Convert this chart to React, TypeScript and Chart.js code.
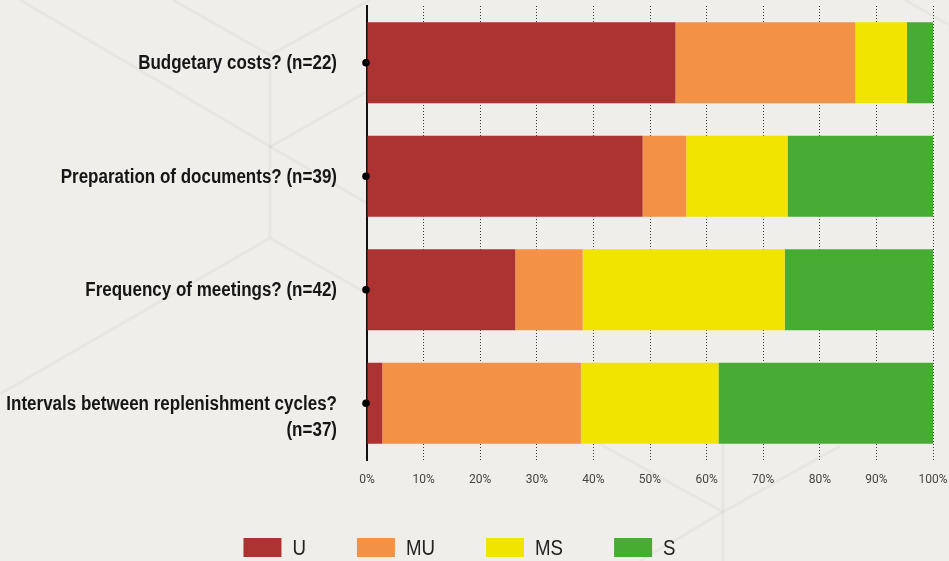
import React, { useEffect, useRef } from 'react';
import { Chart, registerables } from 'chart.js';

Chart.register(...registerables);

// ---- data ----
const categories: string[][] = [
  ['Budgetary costs? (n=22)'],
  ['Preparation of documents? (n=39)'],
  ['Frequency of meetings? (n=42)'],
  ['Intervals between replenishment cycles?', '(n=37)'],
];
const seriesNames = ['U', 'MU', 'MS', 'S'];
const uValues = [54.5, 48.7, 26.2, 2.7];
const muValues = [31.8, 7.7, 11.9, 35.1];
const msValues = [9.1, 17.9, 35.7, 24.3];
const sValues = [4.6, 25.7, 26.2, 37.9];
const xTickValues = [0, 10, 20, 30, 40, 50, 60, 70, 80, 90, 100];

// ---- styles ----
const seriesColors = ['#ad3333', '#f39247', '#f1e400', '#47ab34'];
const BG = '#efeeea';
const SANS = '"Liberation Sans", Arial, sans-serif';
const NARROW_X = 0.85; // horizontal squeeze to imitate a condensed face

// faint decorative hexagon lines of the page background
const backgroundPattern: number[][] = [
  [20, 0, 370, 205],
  [173, 0, 270, 55],
  [270, 55, 370, 0],
  [270, 55, 270, 238],
  [270, 147, 370, 90],
  [270, 238, 0, 394],
  [270, 238, 370, 295],
  [723, 444, 723, 561],
  [600, 444, 723, 512],
  [723, 512, 840, 446],
  [723, 512, 640, 561],
  [905, 0, 949, 25],
];

function narrowText(ctx: CanvasRenderingContext2D, text: string, x: number, y: number, align: CanvasTextAlign) {
  ctx.save();
  ctx.translate(x, y);
  ctx.scale(NARROW_X, 1);
  ctx.textAlign = align;
  ctx.fillText(text, 0, 0);
  ctx.restore();
}

const decorPlugin = {
  id: 'decor',
  beforeDraw(chart: any) {
    const ctx = chart.ctx;
    ctx.save();
    ctx.strokeStyle = 'rgba(0,0,0,0.03)';
    ctx.lineWidth = 3;
    for (const s of backgroundPattern) {
      ctx.beginPath();
      ctx.moveTo(s[0], s[1]);
      ctx.lineTo(s[2], s[3]);
      ctx.stroke();
    }
    ctx.restore();
  },
  afterDraw(chart: any) {
    const { ctx, chartArea } = chart;
    const yScale = chart.scales.y;
    ctx.save();
    // category labels + bullet dots
    (chart.data.labels as string[][]).forEach((lab, i) => {
      const py = yScale.getPixelForValue(i);
      ctx.font = `bold 20px ${SANS}`;
      ctx.fillStyle = '#161616';
      ctx.textBaseline = 'middle';
      lab.forEach((t, j) => narrowText(ctx, t, chartArea.left - 30, py + 1 + j * 26, 'right'));
      ctx.beginPath();
      ctx.fillStyle = '#000';
      ctx.arc(chartArea.left - 1, py, 3.8, 0, Math.PI * 2);
      ctx.fill();
    });
    // legend
    const boxW = 38;
    const boxH = 19;
    const gap = 51;
    const fontSize = 22;
    ctx.font = `${fontSize}px ${SANS}`;
    const items = chart.data.datasets.map((d: any) => ({
      text: d.label,
      color: d.backgroundColor,
      w: boxW + fontSize / 2 + ctx.measureText(d.label).width * NARROW_X,
    }));
    const total = items.reduce((a: number, it: any) => a + it.w, 0) + gap * (items.length - 1);
    let x = (chart.width - total) / 2 - 15;
    const boxTop = chart.height - 23;
    ctx.textBaseline = 'middle';
    for (const it of items) {
      ctx.fillStyle = it.color;
      ctx.fillRect(x, boxTop, boxW, boxH);
      ctx.fillStyle = '#222';
      narrowText(ctx, it.text, x + boxW + fontSize / 2, boxTop + boxH / 2 + 1, 'left');
      x += it.w + gap;
    }
    ctx.restore();
  },
};

export default function App() {
  const canvasRef = useRef<HTMLCanvasElement | null>(null);

  useEffect(() => {
    const canvas = canvasRef.current;
    if (!canvas) return;
    const valueSets = [uValues, muValues, msValues, sValues];
    const chart = new Chart(canvas, {
      type: 'bar',
      data: {
        labels: categories as any,
        datasets: seriesNames.map((name, i) => ({
          label: name,
          data: valueSets[i],
          backgroundColor: seriesColors[i],
          borderWidth: 0,
          barPercentage: 0.714,
          categoryPercentage: 1,
        })),
      },
      options: {
        indexAxis: 'y',
        animation: false,
        responsive: false,
        maintainAspectRatio: false,
        layout: { padding: { top: 6, right: 16, left: 0, bottom: 0 } },
        plugins: {
          legend: { display: false },
          tooltip: { enabled: false },
        },
        scales: {
          x: {
            stacked: true,
            min: 0,
            max: 100,
            afterBuildTicks: (scale: any) => {
              scale.ticks = xTickValues.map((v) => ({ value: v }));
            },
            afterFit: (scale: any) => {
              scale.height = 101;
              scale.paddingLeft = 0;
              scale.paddingRight = 0;
            },
            grid: {
              drawTicks: false,
              lineWidth: 1,
              color: (c: any) => (c.tick && c.tick.value === 0 ? 'rgba(0,0,0,0)' : '#3a3a3a'),
            },
            border: { display: false, dash: [1, 2] },
            ticks: {
              padding: 13,
              color: '#444',
              font: { family: 'Roboto, sans-serif', size: 12 },
              callback: (v: any) => `${v}%`,
            },
          },
          y: {
            stacked: true,
            afterFit: (scale: any) => {
              scale.width = 367;
            },
            grid: { display: false },
            border: { display: true, color: '#111', width: 2 },
            ticks: { display: false },
          },
        },
      },
      plugins: [decorPlugin],
    });
    return () => chart.destroy();
  }, []);

  return (
    <div
      style={{
        position: 'fixed',
        left: 0,
        top: 0,
        width: 949,
        height: 561,
        background: BG,
        overflow: 'hidden',
      }}
    >
      <canvas ref={canvasRef} width={949} height={561} style={{ display: 'block', width: 949, height: 561 }} />
    </div>
  );
}
